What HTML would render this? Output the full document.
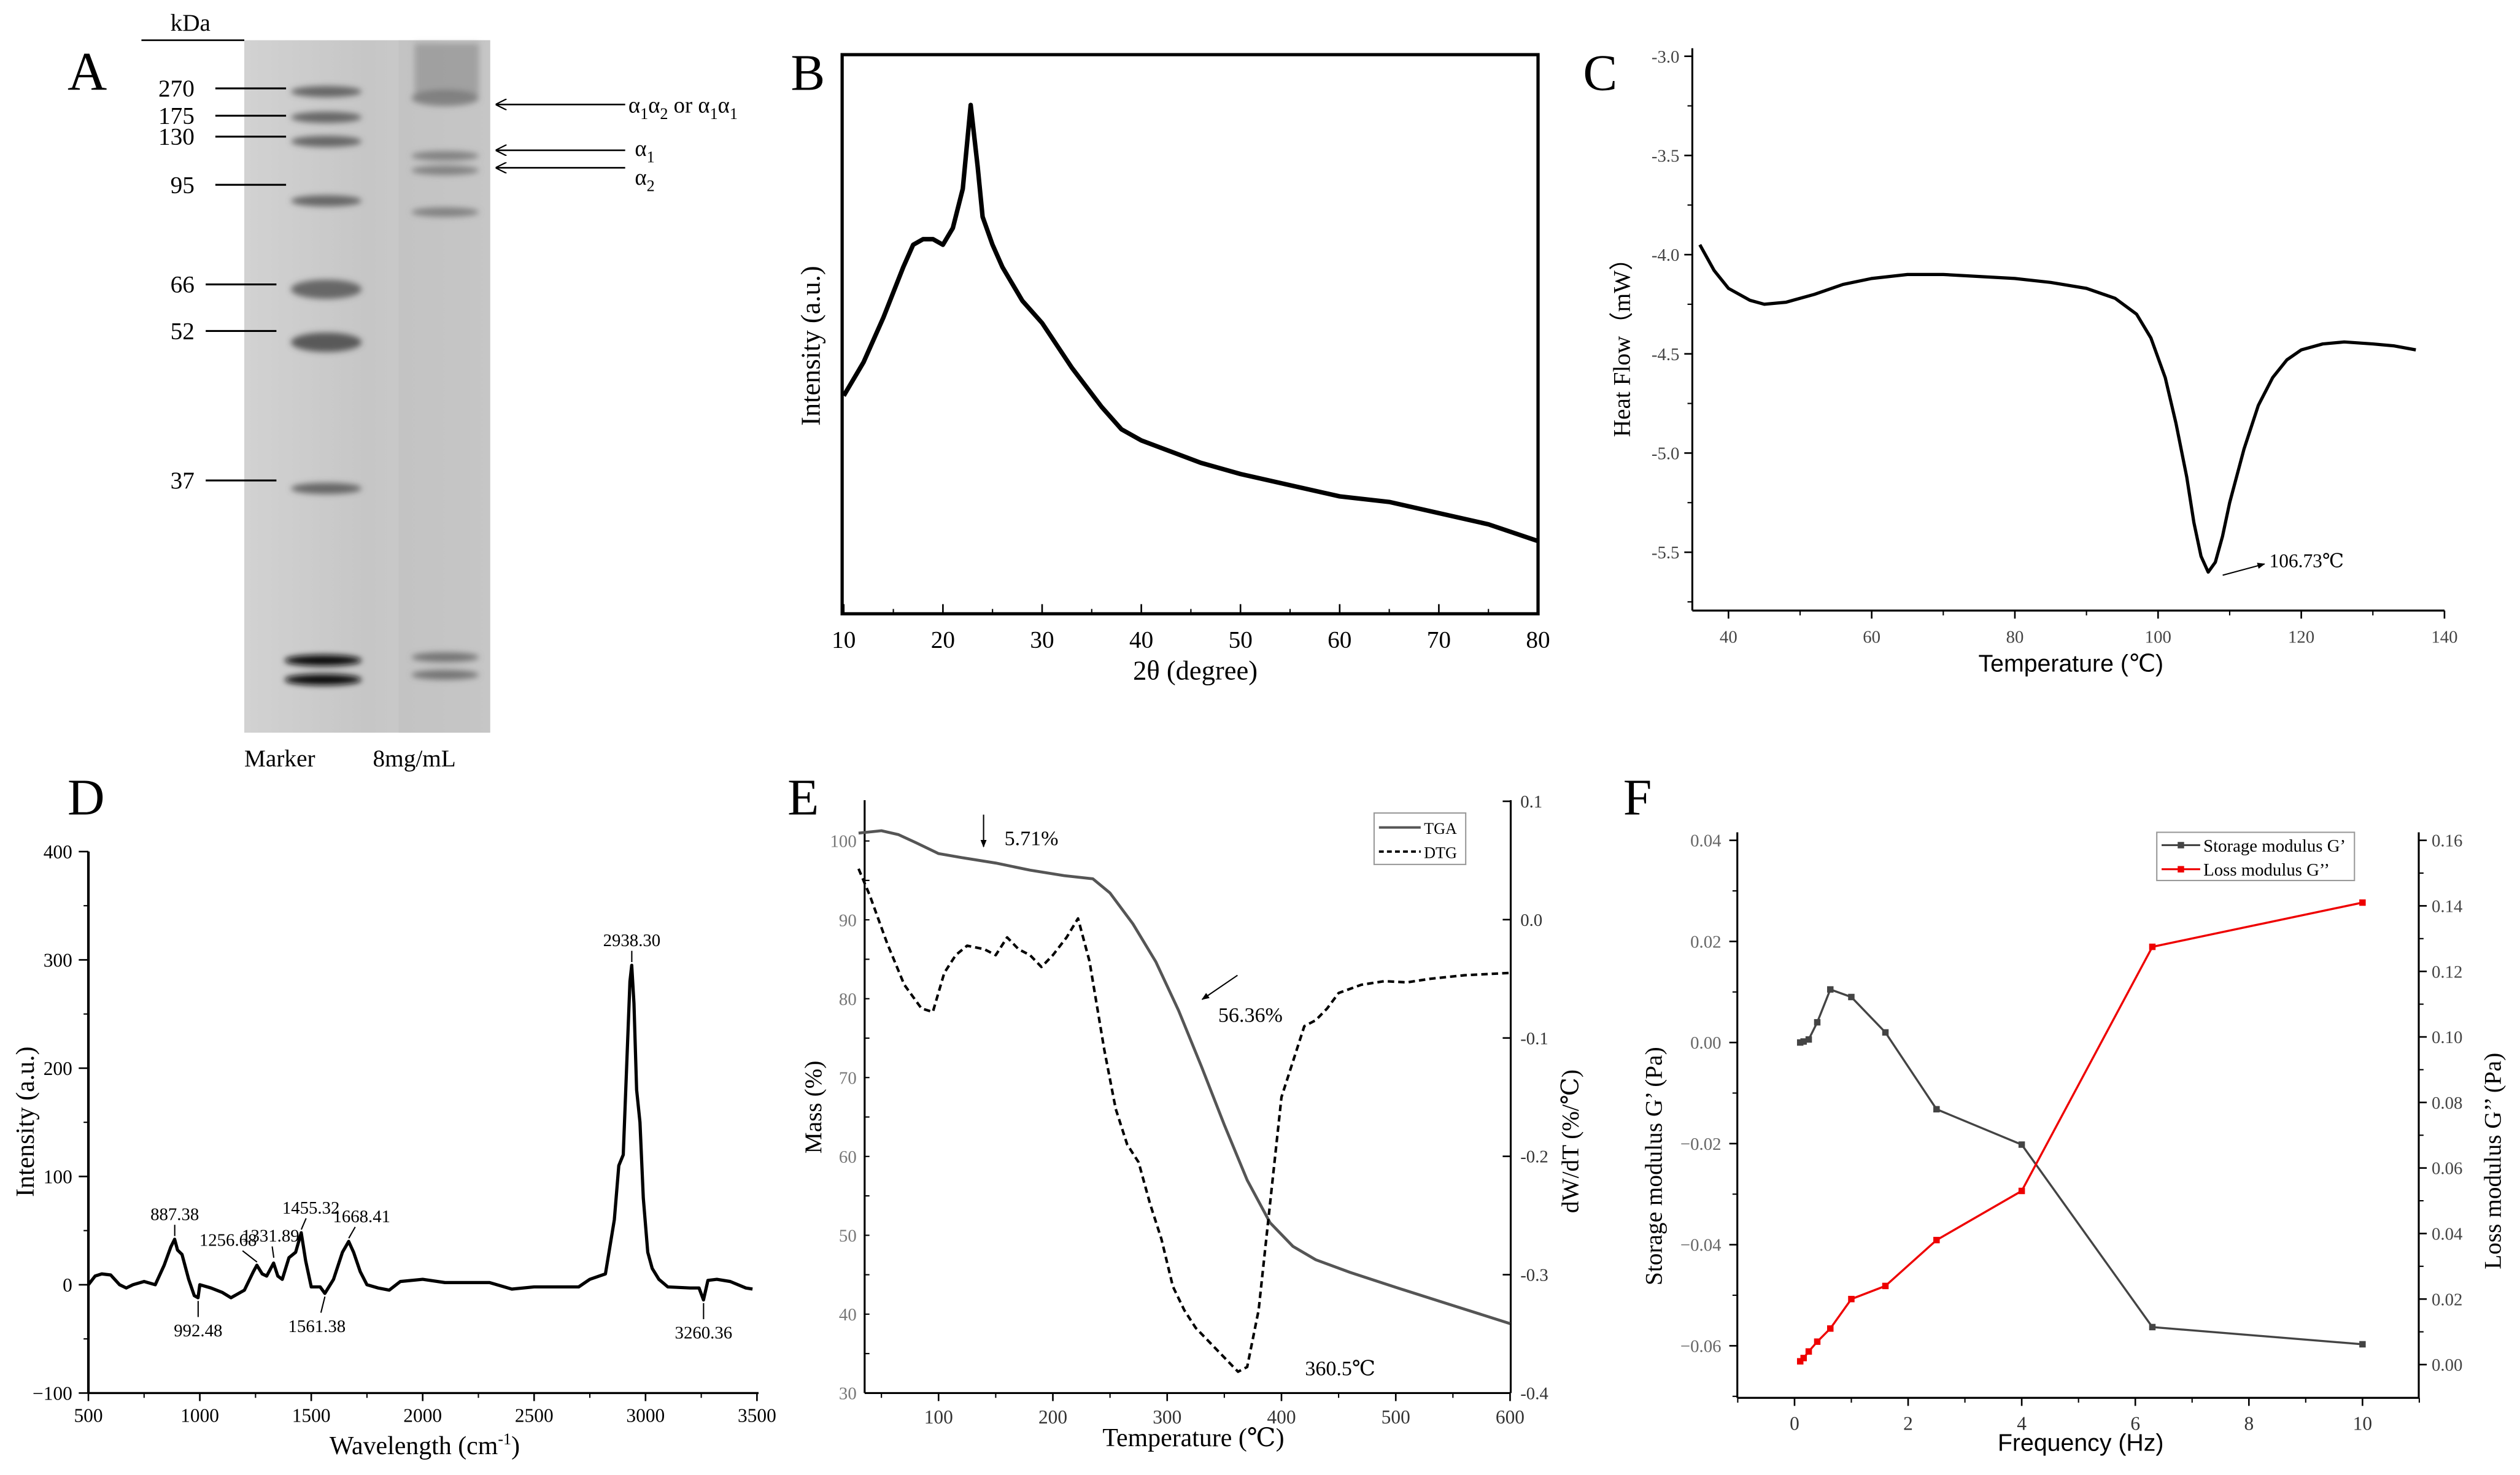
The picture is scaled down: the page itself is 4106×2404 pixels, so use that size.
<!DOCTYPE html>
<html><head><meta charset="utf-8"><style>
html,body{margin:0;padding:0;background:#fff}
svg{display:block}
text{font-family:"Liberation Serif","DejaVu Serif",serif}
</style></head><body>
<svg id="fig" width="4106" height="2404" viewBox="0 0 1568 918" xmlns="http://www.w3.org/2000/svg">
<defs>
<linearGradient id="gelg" x1="0" x2="1" y1="0" y2="0">
<stop offset="0" stop-color="#d2d2d2"/><stop offset="0.5" stop-color="#c6c6c6"/><stop offset="1" stop-color="#cfcfcf"/></linearGradient>
<filter id="blur" x="-20%" y="-50%" width="140%" height="200%"><feGaussianBlur stdDeviation="1.8"/></filter>
<marker id="ah" viewBox="0 0 10 10" refX="9" refY="5" markerWidth="7" markerHeight="7" orient="auto"><path d="M0,0 L10,5 L0,10" fill="none" stroke="#000" stroke-width="1.2"/></marker>
<marker id="ahf" viewBox="0 0 10 10" refX="9" refY="5" markerWidth="6" markerHeight="6" orient="auto"><path d="M0,1 L10,5 L0,9 z" fill="#000"/></marker>
</defs>

<!-- Panel A -->
<g>
<text x="42" y="56" font-size="34">A</text>
<text x="106" y="19" font-size="15">kDa</text>
<line x1="88" y1="25" x2="152" y2="25" stroke="#000" stroke-width="1"/>
<rect x="152" y="25" width="153" height="431" fill="url(#gelg)"/>
<rect x="248" y="25" width="57" height="431" fill="#c0c0c0" opacity="0.6"/>
<g id="gelBands" filter="url(#blur)"></g>
<g id="markerLabels"></g>
<text x="152" y="477" font-size="15">Marker</text>
<text x="232" y="477" font-size="15">8mg/mL</text>
<g id="arrowsA"></g>
</g>

<!-- Panel B -->
<g>
<text x="492" y="56" font-size="32">B</text>
<rect x="524" y="34" width="433" height="348" fill="none" stroke="#000" stroke-width="2"/>
<g id="B"></g>
<text x="705" y="423" font-size="17">2θ (degree)</text>
<text transform="translate(510,265) rotate(-90)" font-size="17">Intensity (a.u.)</text>
</g>

<!-- Panel C -->
<g>
<text x="985" y="56" font-size="32">C</text>
<g id="C"></g>
<text x="1231" y="418" font-size="15" style="font-family:'Liberation Sans',sans-serif">Temperature (℃)</text>
<text transform="translate(1014,272) rotate(-90)" font-size="15">Heat Flow（mW）</text>
<text x="1412" y="353" font-size="12">106.73℃</text>
<line x1="1383" y1="358" x2="1409" y2="351" stroke="#000" stroke-width="0.8" marker-end="url(#ahf)"/>
</g>

<!-- Panel D -->
<g>
<text x="42" y="507" font-size="32">D</text>
<g id="D"></g>
<text x="205" y="905" font-size="16">Wavelength (cm<tspan dy="-6" font-size="10">-1</tspan><tspan dy="6">)</tspan></text>
<text transform="translate(21,745) rotate(-90)" font-size="16">Intensity (a.u.)</text>
</g>

<!-- Panel E -->
<g>
<text x="490" y="507" font-size="32">E</text>
<g id="E"></g>
<text x="686" y="900" font-size="16">Temperature (℃)</text>
<text transform="translate(511,718) rotate(-90)" font-size="15">Mass (%)</text>
<text transform="translate(982,755) rotate(-90)" font-size="15">dW/dT (%/℃)</text>
<text x="625" y="526" font-size="13">5.71%</text>
<line x1="612" y1="507" x2="612" y2="527" stroke="#000" stroke-width="0.8" marker-end="url(#ahf)"/>
<text x="758" y="636" font-size="13">56.36%</text>
<line x1="770" y1="607" x2="748" y2="622" stroke="#000" stroke-width="0.8" marker-end="url(#ahf)"/>
<text x="812" y="856" font-size="13">360.5℃</text>
<g>
<rect x="855" y="506" width="57" height="32" fill="#fff" stroke="#999" stroke-width="0.8"/>
<line x1="858" y1="515" x2="884" y2="515" stroke="#555" stroke-width="1.5"/>
<text x="886" y="519" font-size="10">TGA</text>
<line x1="858" y1="530" x2="884" y2="530" stroke="#000" stroke-width="1.5" stroke-dasharray="3,2"/>
<text x="886" y="534" font-size="10">DTG</text>
</g>
</g>

<!-- Panel F -->
<g>
<text x="1010" y="507" font-size="32">F</text>
<g id="F"></g>
<text x="1243" y="903" font-size="15" style="font-family:'Liberation Sans',sans-serif">Frequency (Hz)</text>
<text transform="translate(1034,800) rotate(-90)" font-size="15">Storage modulus G’ (Pa)</text>
<text transform="translate(1556,790) rotate(-90)" font-size="15">Loss modulus G’’ (Pa)</text>
<g>
<rect x="1342" y="518" width="123" height="30" fill="#fff" stroke="#999" stroke-width="0.8"/>
<line x1="1345" y1="526" x2="1369" y2="526" stroke="#444" stroke-width="1.2"/><rect x="1355" y="524" width="4" height="4" fill="#444"/>
<text x="1371" y="530" font-size="11">Storage modulus G’</text>
<line x1="1345" y1="541" x2="1369" y2="541" stroke="#e00" stroke-width="1.2"/><rect x="1355" y="539" width="4" height="4" fill="#e00"/>
<text x="1371" y="545" font-size="11">Loss modulus G’’</text>
</g>
</g>
</svg>
<script>
const NS='http://www.w3.org/2000/svg';
function mk(p,tag,at){const e=document.createElementNS(NS,tag);for(const k in at)e.setAttribute(k,at[k]);p.appendChild(e);return e;}

// ---- Data ----
const markerLabels=['270','175','130','95','66','52','37'];
const markerLabelY=[55,72,85,115,177,206,299];
const markerBandY=[57,73,88,125,180,213,304];
const sampleBandY=[61,97,106,132,409,420];

const xrdTheta=[10,12,14,16,17,18,19,20,21,22,22.8,23.5,24,25,26,28,30,33,36,38,40,43,46,50,55,60,65,70,75,80];
const xrdInt=[39,45,53,62,66,67,67,66,69,76,91,80,71,66,62,56,52,44,37,33,31,29,27,25,23,21,20,18,16,13];

const dscT=[36,38,40,43,45,48,52,56,60,65,70,75,80,85,90,94,97,99,101,102.5,104,105,106,107,108,109,110,112,114,116,118,120,123,126,130,133,136];
const dscHF=[-3.95,-4.08,-4.17,-4.23,-4.25,-4.24,-4.2,-4.15,-4.12,-4.1,-4.1,-4.11,-4.12,-4.14,-4.17,-4.22,-4.3,-4.42,-4.62,-4.85,-5.12,-5.35,-5.52,-5.6,-5.55,-5.42,-5.25,-4.98,-4.76,-4.62,-4.53,-4.48,-4.45,-4.44,-4.45,-4.46,-4.48];

const ramanX=[500,530,560,600,640,670,700,750,800,840,870,887,900,920,950,975,992,1000,1050,1100,1140,1200,1240,1256,1280,1300,1331,1350,1370,1400,1430,1455,1475,1500,1540,1561,1600,1640,1668,1690,1720,1750,1800,1850,1900,2000,2100,2200,2300,2400,2500,2600,2700,2750,2820,2860,2880,2900,2915,2930,2938,2948,2960,2975,2990,3010,3030,3060,3100,3200,3240,3260,3280,3320,3380,3450,3480];
const ramanY=[0,8,10,9,0,-3,0,3,0,18,35,42,32,28,5,-10,-12,0,-3,-7,-12,-5,12,18,10,8,20,8,5,25,30,48,22,-2,-2,-8,5,30,40,30,12,0,-3,-5,3,5,2,2,2,-4,-2,-2,-2,5,10,60,110,120,200,280,295,260,180,150,80,30,15,5,-2,-3,-3,-14,4,5,3,-3,-4];

const tgaT=[30,50,65,80,100,120,150,180,210,235,250,270,290,310,330,350,370,390,410,430,460,500,550,600];
const tgaMass=[101,101.3,100.8,99.8,98.4,97.9,97.2,96.3,95.6,95.2,93.4,89.5,84.7,78.5,71.4,64,57,51.6,48.6,46.9,45.3,43.4,41.1,38.8];
const dtgT=[30,40,55,70,85,95,105,115,125,140,150,160,170,180,190,200,212,222,232,245,255,265,275,285,295,305,315,325,335,345,355,362,370,380,390,400,410,420,430,440,450,470,490,510,530,560,600];
const dtgV=[0.043,0.02,-0.02,-0.055,-0.075,-0.078,-0.045,-0.03,-0.022,-0.025,-0.03,-0.015,-0.025,-0.03,-0.04,-0.03,-0.015,0.001,-0.035,-0.11,-0.16,-0.19,-0.205,-0.24,-0.27,-0.31,-0.33,-0.345,-0.355,-0.365,-0.375,-0.382,-0.378,-0.33,-0.24,-0.15,-0.12,-0.09,-0.085,-0.075,-0.062,-0.055,-0.052,-0.053,-0.05,-0.047,-0.045];

const freq=[0.1,0.16,0.25,0.4,0.63,1,1.6,2.5,4,6.3,10];
const storageG=[0,0.0002,0.0006,0.004,0.0105,0.009,0.002,-0.0132,-0.0202,-0.0563,-0.0597];
const lossG=[0.001,0.002,0.004,0.007,0.011,0.02,0.024,0.038,0.053,0.1275,0.141];

// ---- helpers ----
function lin(d0,d1,r0,r1){return v=>r0+(v-d0)*(r1-r0)/(d1-d0);}
function path(g,xs,ys,sx,sy,st,name){const d=xs.map((x,i)=>(i?'L':'M')+sx(x).toFixed(2)+','+sy(ys[i]).toFixed(2)).join('');const p=mk(g,'path',Object.assign({d:d,fill:'none','stroke-linejoin':'round'},st));

return p;}
function xTicks(g,vals,sx,y,opt){vals.forEach(v=>{mk(g,'line',{x1:sx(v),x2:sx(v),y1:y,y2:y+opt.len,stroke:'#000','stroke-width':1});const t=mk(g,'text',{x:sx(v),y:y+opt.dy,'font-size':opt.fs,'text-anchor':'middle',fill:opt.fill||'#000'});t.textContent=opt.fmt?opt.fmt(v):v;

});}
function yTicks(g,vals,sy,x,opt){vals.forEach(v=>{mk(g,'line',{x1:x,x2:x+opt.dir*opt.len,y1:sy(v),y2:sy(v),stroke:'#000','stroke-width':1});const t=mk(g,'text',{x:x+opt.tx,y:sy(v)+opt.fs*0.35,'font-size':opt.fs,'text-anchor':opt.anchor,fill:opt.fill||'#000'});t.textContent=opt.fmt?opt.fmt(v):v;

});}
function minor(g,vals,f,fixed,len,vert){vals.forEach(v=>{if(vert)mk(g,'line',{x1:f(v),x2:f(v),y1:fixed,y2:fixed+len,stroke:'#000','stroke-width':0.8});else mk(g,'line',{x1:fixed,x2:fixed+len,y1:f(v),y2:f(v),stroke:'#000','stroke-width':0.8});});}
function range(a,b,s){const r=[];for(let v=a;v<=b+1e-9;v+=s)r.push(+v.toFixed(6));return r;}

// ---- A ----
(function(){
const bg=document.getElementById('gelBands');
markerBandY.forEach((y,i)=>{const thick=(i==4||i==5);const e=mk(bg,'ellipse',{cx:203,cy:y,rx:22,ry:thick?6:3.5,fill:i==5?'#444':'#555',opacity:0.85});

});
[411,423].forEach(y=>{const e=mk(bg,'ellipse',{cx:201,cy:y,rx:24,ry:3.5,fill:'#111'});

});
mk(bg,'rect',{x:258,y:27,width:40,height:32,fill:'#888',opacity:0.6});
sampleBandY.forEach((y,i)=>{const e=mk(bg,'ellipse',{cx:277,cy:y,rx:21,ry:i==0?5:3,fill:i>=4?'#666':'#777',opacity:0.85});

});
const ml=document.getElementById('markerLabels');
markerLabels.forEach((l,i)=>{const t=mk(ml,'text',{x:121,y:markerLabelY[i]+5,'font-size':15,'text-anchor':'end'});t.textContent=l;


mk(ml,'line',{x1:i>=4?128:134,x2:i>=4?172:178,y1:markerLabelY[i],y2:markerLabelY[i],stroke:'#000','stroke-width':1.2});});
const ar=document.getElementById('arrowsA');
[[65,'α<tspan font-size="10" dy="4">1</tspan><tspan dy="-4">α</tspan><tspan font-size="10" dy="4">2</tspan><tspan dy="-4"> or α</tspan><tspan font-size="10" dy="4">1</tspan><tspan dy="-4">α</tspan><tspan font-size="10" dy="4">1</tspan>',70,391],[93.5,'α<tspan font-size="10" dy="4">1</tspan>',97,395],[104.4,'α<tspan font-size="10" dy="4">2</tspan>',115,395]].forEach(a=>{
mk(ar,'line',{x1:389,x2:309,y1:a[0],y2:a[0],stroke:'#000','stroke-width':1,'marker-end':'url(#ah)'});
const t=mk(ar,'text',{x:a[3],y:a[2],'font-size':14});t.innerHTML=a[1];

});
})();

// ---- B ----
(function(){const g=document.getElementById('B');
const sx=lin(10,80,525,957),sy=lin(0,100,382,34);
path(g,xrdTheta,xrdInt,sx,sy,{stroke:'#000','stroke-width':2.8},'xrd-curve');
xTicks(g,range(10,80,10),sx,382,{len:-6,dy:21,fs:15});
minor(g,range(15,75,10),sx,382,-3,true);
})();

// ---- C ----
(function(){const g=document.getElementById('C');
const sx=lin(40,140,1075.5,1521),sy=lin(-3,-5.5,35,343.7);
mk(g,'line',{x1:1053,x2:1053,y1:30,y2:380,stroke:'#000','stroke-width':1.2});
mk(g,'line',{x1:1053,x2:1521,y1:380,y2:380,stroke:'#000','stroke-width':1.2});
xTicks(g,range(40,140,20),sx,380,{len:5,dy:20,fs:11,fill:'#444',fmt:v=>v});
minor(g,range(50,130,20),sx,380,3,true);
yTicks(g,range(-5.5,-3,0.5),sy,1053,{dir:-1,len:5,tx:-8,fs:11,anchor:'end',fill:'#444',fmt:v=>v.toFixed(1)});
minor(g,range(-5.75,-3.25,0.25).filter(v=>Math.abs(v*2-Math.round(v*2))>0.01),sy,1053,-3,false);
path(g,dscT,dscHF,sx,sy,{stroke:'#000','stroke-width':2},'dsc-curve');
})();

// ---- D ----
(function(){const g=document.getElementById('D');
const sx=lin(500,3500,55,471),sy=lin(-100,400,867,530);
mk(g,'line',{x1:55,x2:55,y1:530,y2:867,stroke:'#000','stroke-width':1.6});
mk(g,'line',{x1:55,x2:472,y1:867,y2:867,stroke:'#000','stroke-width':1.3});
xTicks(g,range(500,3500,500),sx,867,{len:5,dy:18,fs:12});
minor(g,range(750,3250,500),sx,867,3,true);
yTicks(g,range(-100,400,100),sy,55,{dir:-1,len:6,tx:-10,fs:12,anchor:'end',fmt:v=>v<0?'−'+(-v):v});
minor(g,range(-50,350,100),sy,55,-3,false);
path(g,ramanX,ramanY,sx,sy,{stroke:'#000','stroke-width':2},'raman-spectrum');
const ann=[[887.38,42,'887.38',1,0],[992.48,-12,'992.48',-1,0],[1256.68,18,'1256.68',1,-18],[1331.89,22,'1331.89',1,-2],[1455.32,48,'1455.32',1,6],[1668.41,40,'1668.41',1,8],[1561.38,-8,'1561.38',-1,-5],[2938.30,295,'2938.30',1,0],[3260.36,-14,'3260.36',-1,0]];
ann.forEach(a=>{const x=sx(a[0]),y=sy(a[1]);const up=a[3]>0;
mk(g,'line',{x1:x,y1:y+(up?-2:2),x2:x+a[4]*0.5,y2:y+(up?-9:12),stroke:'#000','stroke-width':0.8});
const t=mk(g,'text',{x:x+a[4],y:up?y-12:y+24,'font-size':11,'text-anchor':'middle'});t.textContent=a[2];

});
})();

// ---- E ----
(function(){const g=document.getElementById('E');
const sx=lin(100,600,584,939.6),sy=lin(30,100,867,523.4),sy2=lin(-0.4,0.1,867,498.7);
mk(g,'line',{x1:538,x2:538,y1:498,y2:867,stroke:'#000','stroke-width':1.2});
mk(g,'line',{x1:538,x2:940,y1:867,y2:867,stroke:'#000','stroke-width':1.2});
mk(g,'line',{x1:940,x2:940,y1:498,y2:867,stroke:'#000','stroke-width':1.2});
xTicks(g,range(100,600,100),sx,867,{len:5,dy:19,fs:12,fill:'#333'});
minor(g,range(50,550,100),sx,867,3,true);
yTicks(g,range(30,100,10),sy,538,{dir:-1,len:0,tx:-5,fs:11,anchor:'end',fill:'#777'});
minor(g,range(35,100,5),sy,538,3,false);
yTicks(g,[-0.4,-0.3,-0.2,-0.1,0,0.1],sy2,940,{dir:-1,len:5,tx:6,fs:11,anchor:'start',fill:'#333',fmt:v=>v.toFixed(1)});
path(g,tgaT,tgaMass,sx,sy,{stroke:'#555','stroke-width':1.8},'tga-curve');
path(g,dtgT,dtgV,sx,sy2,{stroke:'#000','stroke-width':1.6,'stroke-dasharray':'4,2.5'},'dtg-curve');
})();

// ---- F ----
(function(){const g=document.getElementById('F');
const sx=lin(0,10,1116.6,1470),sy=lin(-0.06,0.04,837.6,523),sy2=lin(0,0.16,849.3,523);
mk(g,'line',{x1:1081,x2:1081,y1:518,y2:870,stroke:'#000','stroke-width':1.2});
mk(g,'line',{x1:1081,x2:1505,y1:870,y2:870,stroke:'#000','stroke-width':1.2});
mk(g,'line',{x1:1505,x2:1505,y1:518,y2:870,stroke:'#000','stroke-width':1.2});
xTicks(g,range(0,10,2),sx,870,{len:5,dy:20,fs:12,fill:'#333'});
minor(g,range(-1,11,2),sx,870,3,true);
yTicks(g,range(-0.06,0.04,0.02),sy,1081,{dir:-1,len:5,tx:-10,fs:11,anchor:'end',fill:'#666',fmt:v=>(v<-1e-9?'−':'')+Math.abs(v).toFixed(2)});
minor(g,range(-0.07,0.03,0.02),sy,1081,-3,false);
yTicks(g,range(0,0.16,0.02),sy2,1505,{dir:1,len:5,tx:8,fs:11,anchor:'start',fill:'#444',fmt:v=>v.toFixed(2)});
minor(g,range(0.01,0.15,0.02),sy2,1505,3,false);
path(g,freq,storageG,sx,sy,{stroke:'#444','stroke-width':1.3},'storage-modulus-line');
path(g,freq,lossG,sx,sy2,{stroke:'#e00','stroke-width':1.3},'loss-modulus-line');
freq.forEach((f,i)=>{const a=mk(g,'rect',{x:sx(f)-2,y:sy(storageG[i])-2,width:4,height:4,fill:'#444'});


const b=mk(g,'rect',{x:sx(f)-2,y:sy2(lossG[i])-2,width:4,height:4,fill:'#e00'});

});
})();
</script>
</body></html>
